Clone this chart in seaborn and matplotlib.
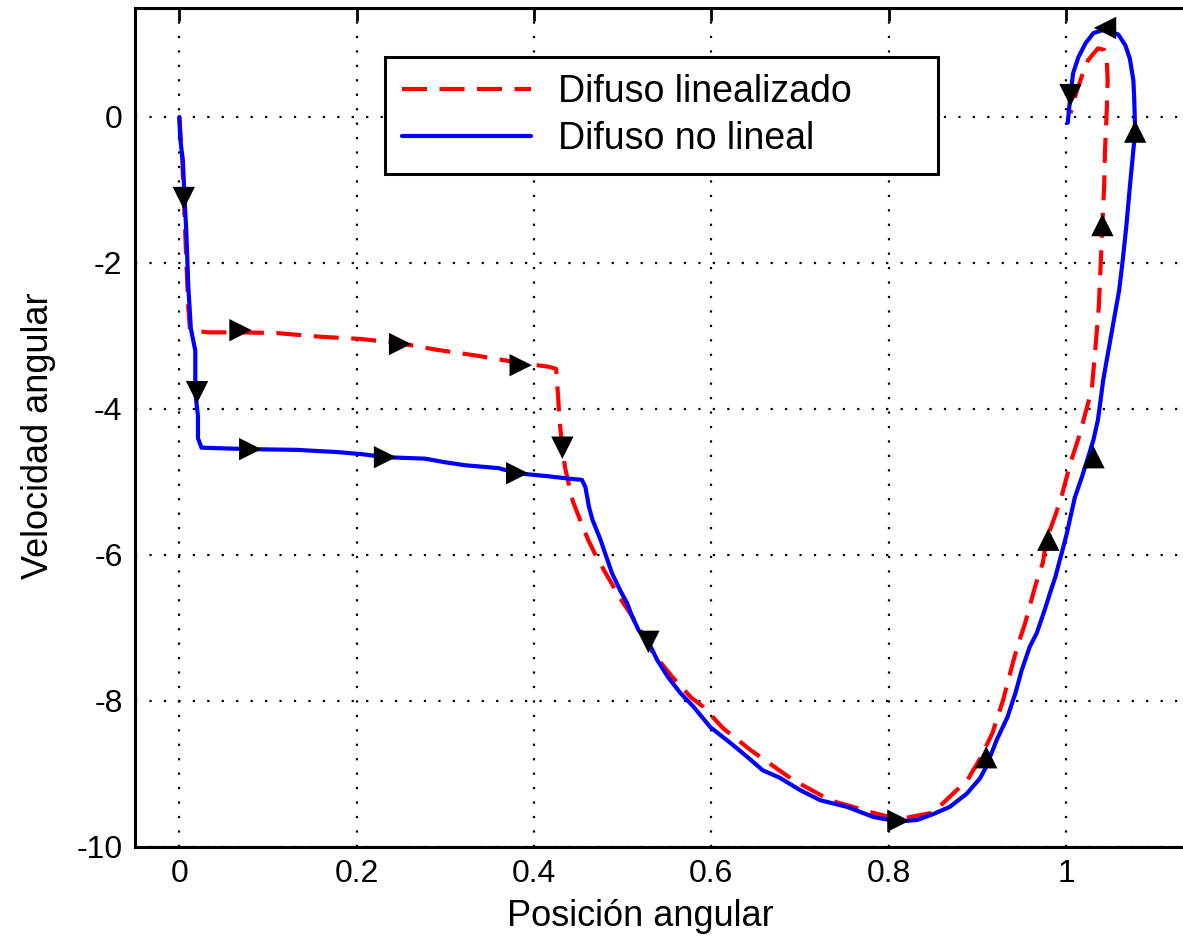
import numpy as np
import pandas as pd
import seaborn as sns
import matplotlib
matplotlib.use("Agg")
import matplotlib.pyplot as plt

# Difuso linealizado (red dashed) - posicion / velocidad
lin_x = [0.0, 0.003, 0.005, 0.008, 0.010, 0.012, 0.032, 0.069, 0.110, 0.159, 0.204,
         0.249, 0.291, 0.336, 0.385, 0.416, 0.425, 0.427, 0.429, 0.432, 0.435, 0.440,
         0.444, 0.452, 0.461, 0.471, 0.497, 0.508, 0.519, 0.534, 0.556, 0.577, 0.591,
         0.613, 0.644, 0.692, 0.734, 0.782, 0.811, 0.850, 0.889, 0.904, 0.917, 0.929,
         0.940, 0.945, 0.954, 0.965, 0.974, 0.978, 0.989, 0.996, 1.005, 1.016, 1.022,
         1.029, 1.033, 1.037, 1.039, 1.041, 1.043, 1.044, 1.046, 1.047, 1.046, 1.043,
         1.036, 1.025, 1.019, 1.012, 1.005]
lin_y = [0.0, -0.50, -1.11, -2.00, -2.60, -2.92, -2.95, -2.95, -2.96, -3.01, -3.04,
         -3.10, -3.19, -3.27, -3.37, -3.42, -3.45, -3.80, -4.18, -4.53, -4.80, -5.07,
         -5.27, -5.52, -5.79, -6.04, -6.59, -6.79, -7.00, -7.34, -7.67, -7.95, -8.08,
         -8.37, -8.67, -9.08, -9.36, -9.53, -9.62, -9.53, -9.08, -8.77, -8.44, -7.99,
         -7.48, -7.26, -6.93, -6.44, -6.10, -5.79, -5.42, -5.15, -4.74, -4.33, -4.05,
         -3.74, -3.19, -2.60, -2.05, -1.48, -0.96, -0.45, 0.10, 0.50, 0.78, 0.92,
         0.94, 0.78, 0.60, 0.35, 0.05]

# Difuso no lineal (blue solid)
nl_x = [0.0, 0.001, 0.004, 0.006, 0.008, 0.010, 0.013, 0.018, 0.018, 0.021, 0.021,
        0.025, 0.080, 0.133, 0.178, 0.207, 0.232, 0.277, 0.300, 0.322, 0.360, 0.381,
        0.415, 0.444, 0.454, 0.458, 0.462, 0.466, 0.475, 0.480, 0.488, 0.497, 0.505,
        0.511, 0.518, 0.529, 0.539, 0.551, 0.565, 0.580, 0.599, 0.622, 0.641, 0.658,
        0.677, 0.700, 0.723, 0.753, 0.783, 0.811, 0.832, 0.850, 0.869, 0.888, 0.903,
        0.910, 0.922, 0.934, 0.943, 0.950, 0.959, 0.967, 0.976, 0.982, 0.988, 0.993,
        0.997, 1.001, 1.005, 1.010, 1.018, 1.025, 1.031, 1.036, 1.039, 1.042, 1.048,
        1.054, 1.060, 1.064, 1.068, 1.072, 1.076, 1.078, 1.077, 1.076, 1.072, 1.067,
        1.059, 1.044, 1.031, 1.022, 1.014, 1.008, 1.005, 1.003, 1.002]
nl_y = [0.0, -0.30, -0.60, -1.14, -1.60, -2.30, -2.90, -3.20, -3.77, -4.10, -4.40,
        -4.53, -4.55, -4.56, -4.59, -4.62, -4.66, -4.68, -4.73, -4.77, -4.81, -4.88,
        -4.92, -4.96, -4.97, -5.07, -5.34, -5.52, -5.79, -5.97, -6.25, -6.48, -6.66,
        -6.85, -7.03, -7.19, -7.44, -7.67, -7.89, -8.08, -8.36, -8.58, -8.77, -8.95,
        -9.05, -9.22, -9.36, -9.45, -9.59, -9.65, -9.63, -9.55, -9.45, -9.27, -9.06,
        -8.90, -8.53, -8.22, -7.89, -7.58, -7.26, -7.07, -6.75, -6.52, -6.30, -6.07,
        -5.89, -5.70, -5.48, -5.21, -4.93, -4.66, -4.42, -4.15, -3.88, -3.60, -3.19,
        -2.78, -2.37, -1.96, -1.50, -0.96, -0.45, -0.20, 0.23, 0.50, 0.80, 0.98,
        1.13, 1.20, 1.15, 1.01, 0.82, 0.60, 0.30, 0.05, -0.08]

# flechas de direccion
arrow_x = [0.005, 0.069, 0.249, 0.385, 0.432, 0.529, 0.811, 0.910, 0.980, 1.041,
           0.020, 0.080, 0.232, 0.381, 1.031, 1.078, 1.044, 1.005]
arrow_y = [-1.11, -2.92, -3.11, -3.40, -4.53, -7.19, -9.64, -8.77, -5.79, -1.48,
           -3.77, -4.55, -4.66, -4.88, -4.66, -0.20, 1.22, 0.30]
arrow_dir = ['v', '>', '>', '>', 'v', 'v', '>', '^', '^', '^',
             'v', '>', '>', '>', '^', '^', '<', 'v']

x_ticks = [0, 0.2, 0.4, 0.6, 0.8, 1]
x_ticklabels = ['0', '0.2', '0.4', '0.6', '0.8', '1']
y_ticks = [-10, -8, -6, -4, -2, 0]

sns.set_style("white")
plt.rcParams['font.family'] = ['Liberation Sans', 'DejaVu Sans']
plt.rcParams['axes.unicode_minus'] = False
plt.rcParams['text.color'] = 'black'
plt.rcParams['axes.labelcolor'] = 'black'

fig = plt.figure(figsize=(11.83, 9.41), dpi=100)
# el eje derecho queda fuera de la imagen, como en la original
ax = fig.add_axes([135 / 1183, 94 / 941, 1064 / 1183, 839.5 / 941])

df_lin = pd.DataFrame({'x': lin_x, 'y': lin_y})
df_nl = pd.DataFrame({'x': nl_x, 'y': nl_y})
sns.lineplot(data=df_lin, x='x', y='y', sort=False, estimator=None, ax=ax,
             color='#ff0000', linewidth=3, dashes=False, label='Difuso linealizado')
ax.lines[-1].set_dashes((6, 3))
sns.lineplot(data=df_nl, x='x', y='y', sort=False, estimator=None, ax=ax,
             color='#0000ff', linewidth=3, label='Difuso no lineal')

df_arr = pd.DataFrame({'x': arrow_x, 'y': arrow_y, 'd': arrow_dir})
for d, grp in df_arr.groupby('d'):
    sns.scatterplot(data=grp, x='x', y='y', marker=d, color='black', s=260,
                    edgecolor='none', ax=ax, legend=False, zorder=5)

ax.set_xlim(-0.05, 1.15)
ax.set_ylim(-10, 1.5)
ax.set_xticks(x_ticks)
ax.set_xticklabels(x_ticklabels)
ax.set_yticks(y_ticks)
ax.grid(True, color='black', linestyle=(0, (1, 5.5)), linewidth=1.6)
ax.tick_params(direction='in', length=9, width=2, top=True, right=True,
               labelsize=23, pad=9, colors='black')
for sp in ax.spines.values():
    sp.set_color('black')
    sp.set_linewidth(2.2)

ax.set_xlabel('Posición angular', fontsize=26)
ax.set_ylabel('Velocidad angular', fontsize=26)
ax.xaxis.set_label_coords(505 / 1064, -0.062)
ax.yaxis.set_label_coords(-0.074, 0.49)

leg_w = 553 / 1064
leg_h = 111 / 839.5
leg = ax.legend(loc='upper left', bbox_to_anchor=(250 / 1064, 0.941 - leg_h, leg_w, leg_h),
                mode='expand', fontsize=27, frameon=True, fancybox=False,
                handlelength=3.45, handletextpad=0.7, borderpad=0.45,
                labelspacing=0.3, borderaxespad=0)
leg.get_frame().set_edgecolor('black')
leg.get_frame().set_alpha(1)
leg.get_frame().set_linewidth(2.2)
leg.legend_handles[0].set_dashes((6, 3))

fig.savefig('out.png', dpi=100)
